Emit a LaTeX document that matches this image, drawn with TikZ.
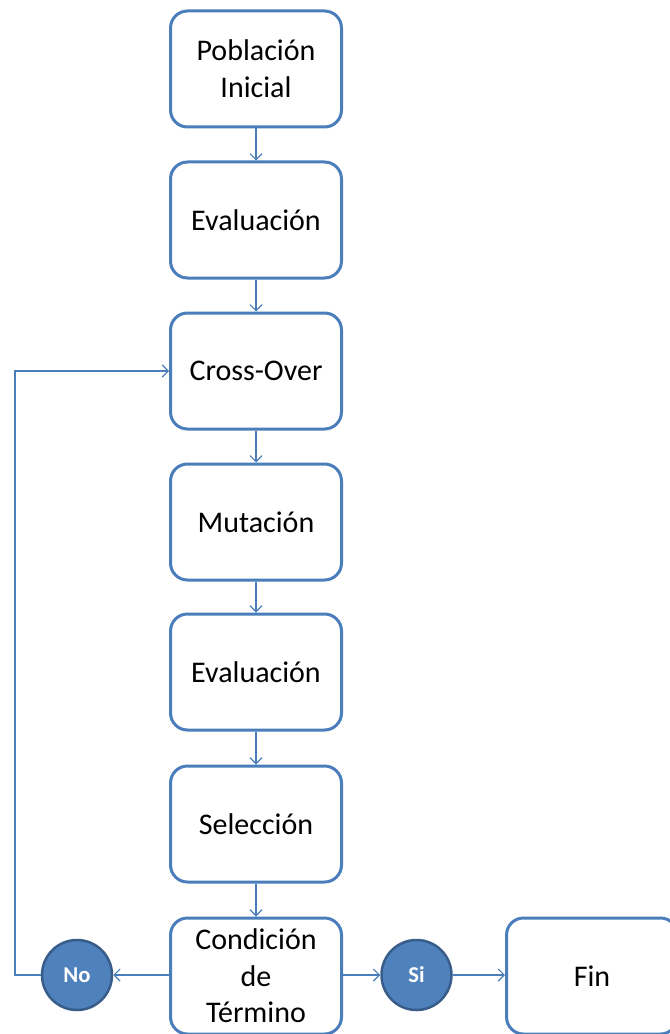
\documentclass[tikz,border=0pt]{standalone}
\usepackage{fontspec}
\setmainfont{Carlito}
\usetikzlibrary{arrows.meta}
\definecolor{boxblue}{HTML}{4A7EBB}
\definecolor{circfill}{HTML}{4F81BD}
\definecolor{circline}{HTML}{385D8A}
\begin{document}
\begin{tikzpicture}[x=0.75pt,y=-0.75pt,
  stepbox/.style={draw=boxblue,line width={3*0.75pt},fill=white,rounded corners={17*0.75pt},
    minimum width={171*0.75pt},minimum height={116*0.75pt},inner sep=0pt,
    align=center,font=\fontsize{22.5pt}{27.5pt}\selectfont},
  answer/.style={circle,draw=circline,line width={2.5*0.75pt},fill=circfill,
    minimum size={70*0.75pt},inner sep=0pt,text=white,font=\fontsize{17pt}{20pt}\selectfont\bfseries},
  link/.style={draw=boxblue,line width={1.2*0.75pt},-{Straight Barb[length={6*0.75pt},width={12*0.75pt}]}}]
\useasboundingbox (0,0) rectangle (670,1034);
\clip (0,0) rectangle (670,1034);
% main column of steps
\node[stepbox] (pob) at (256,69) {Población\\Inicial};
\node[stepbox] (ev1) at (256,220) {Evaluación};
\node[stepbox] (cross) at (256,371) {Cross-Over};
\node[stepbox] (mut) at (256,522) {Mutación};
\node[stepbox] (ev2) at (256,672) {Evaluación};
\node[stepbox] (sel) at (256,824) {Selección};
\node[stepbox] (cond) at (256,976) {Condición\\de\\Término};
% outcome of the termination test
\node[answer] (no) at (77,975) {No};
\node[answer] (si) at (416.5,975) {Si};
\node[stepbox] (fin) at (592,976) {Fin};
% connectors
\draw[link] (pob) -- (ev1);
\draw[link] (ev1) -- (cross);
\draw[link] (cross) -- (mut);
\draw[link] (mut) -- (ev2);
\draw[link] (ev2) -- (sel);
\draw[link] (sel) -- (cond);
\draw[link] (cond.west |- no) -- (no);
\draw[link] (cond.east |- si) -- (si);
\draw[link] (si) -- (fin.west |- si);
\coordinate (loopbot) at (15,975);
\coordinate (looptop) at (15,371);
\draw[link] (no.west) -- (loopbot) -- (looptop) -- (cross.west);
\end{tikzpicture}
\end{document}
